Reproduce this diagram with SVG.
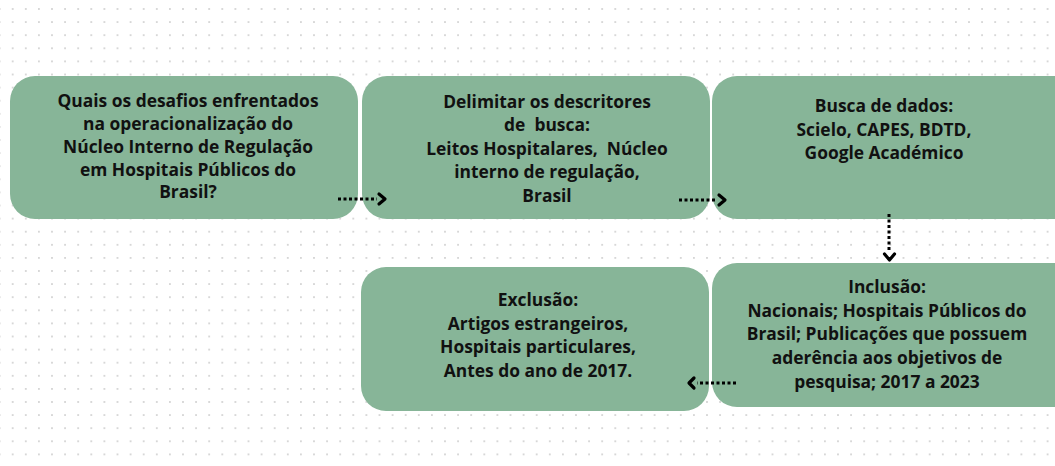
<svg xmlns="http://www.w3.org/2000/svg" width="1055" height="466" viewBox="0 0 1055 466">
<defs>
<pattern id="grid" x="6.15" y="2.45" width="13.1" height="13.1" patternUnits="userSpaceOnUse">
<circle cx="6.55" cy="6.55" r="0.9" fill="#c8c8c8"/>
</pattern>
<style>
.box{fill:#87b598;}
.t{font-family:"Open Sans","Noto Sans","DejaVu Sans",sans-serif;font-weight:bold;font-size:17.4px;fill:#111;text-anchor:middle;}
.dl{stroke:#000;stroke-width:3;stroke-dasharray:3 2.5;fill:none;}
.hd{stroke:#000;stroke-width:3.2;fill:none;stroke-linecap:round;stroke-linejoin:round;}
</style>
</defs>
<rect width="1055" height="466" fill="#fff"/>
<rect width="1055" height="466" fill="url(#grid)"/>
<g id="n1">
<rect class="box" x="10" y="76" width="348" height="143" rx="25"/>
<text class="t" x="188" y="107">Quais os desafios enfrentados</text>
<text class="t" x="188" y="130">na operacionalização do</text>
<text class="t" x="188" y="153">Núcleo Interno de Regulação</text>
<text class="t" x="188" y="176">em Hospitais Públicos do</text>
<text class="t" x="188" y="198">Brasil?</text>
</g>
<g id="n2">
<rect class="box" x="362" y="76" width="348" height="143" rx="25"/>
<text class="t" x="547" y="108" xml:space="preserve">Delimitar os descritores</text>
<text class="t" x="547" y="131" xml:space="preserve">de  busca:</text>
<text class="t" x="547" y="155" xml:space="preserve">Leitos Hospitalares,  Núcleo</text>
<text class="t" x="547" y="178" xml:space="preserve">interno de regulação,</text>
<text class="t" x="547" y="202" xml:space="preserve">Brasil</text>
</g>
<g id="n3">
<rect class="box" x="712" y="76" width="370" height="143" rx="25"/>
<text class="t" x="884" y="112">Busca de dados:</text>
<text class="t" x="884" y="136">Scielo, CAPES, BDTD,</text>
<text class="t" x="884" y="159">Google Académico</text>
</g>
<g id="n4">
<rect class="box" x="361" y="267" width="348" height="144" rx="25"/>
<text class="t" x="538" y="306">Exclusão:</text>
<text class="t" x="538" y="330">Artigos estrangeiros,</text>
<text class="t" x="538" y="353">Hospitais particulares,</text>
<text class="t" x="538" y="377">Antes do ano de 2017.</text>
</g>
<g id="n5">
<rect class="box" x="712" y="263" width="370" height="144" rx="25"/>
<text class="t" x="887" y="293">Inclusão:</text>
<text class="t" x="887" y="317">Nacionais; Hospitais Públicos do</text>
<text class="t" x="887" y="340">Brasil; Publicações que possuem</text>
<text class="t" x="887" y="364">aderência aos objetivos de</text>
<text class="t" x="887" y="388">pesquisa; 2017 a 2023</text>
</g>
<g id="connectors">
<line class="dl" x1="338" y1="199" x2="377" y2="199"/>
<polyline class="hd" points="379,194 385,199 379,204"/>
<line class="dl" x1="679" y1="200" x2="717" y2="200"/>
<polyline class="hd" points="719,195 725,200 719,205"/>
<line class="dl" x1="889" y1="214" x2="889" y2="252"/>
<polyline class="hd" points="884.5,254 889.5,260 894.5,254"/>
<line class="dl" x1="736" y1="383" x2="697" y2="383"/>
<polyline class="hd" points="694,378 689,383 694,388"/>
</g>
</svg>
